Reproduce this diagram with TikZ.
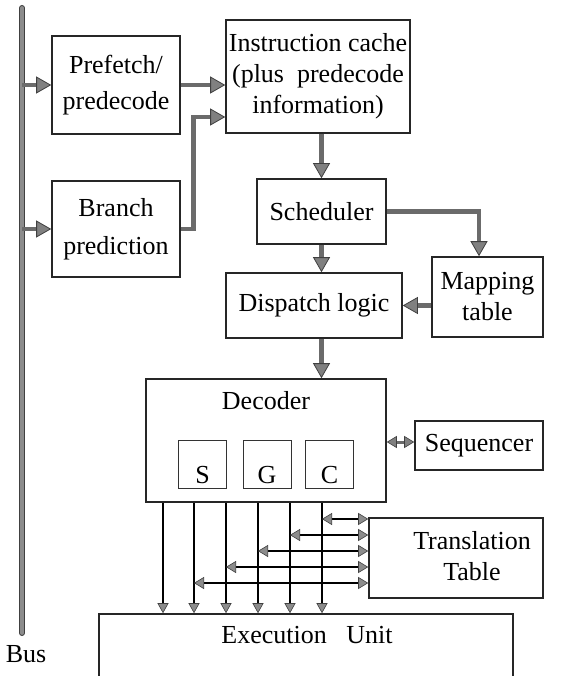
\documentclass[tikz,border=0pt]{standalone}
\usepackage{fontspec}
\setmainfont{Liberation Serif}
\usetikzlibrary{arrows.meta,calc}
\tikzset{
  box/.style={draw=black!85, line width=1.6pt, inner sep=0pt, align=center,
    font=\fontsize{26}{31}\selectfont},
  subbox/.style={draw=black!80, line width=0.8pt, inner sep=0pt,
    minimum width=48, minimum height=48},
  txt/.style={inner sep=0pt, align=center, font=\fontsize{26}{31}\selectfont},
  fat/.style={line width=4.8pt, draw=black!58,
    -{Triangle[length=15pt,width=17pt,fill=black!50,color=black!75,line width=0.8pt]}},
  fatdbl/.style={line width=3pt, draw=black!58,
    {Triangle[length=10pt,width=12pt,fill=black!50,color=black!75,line width=0.6pt]}-{Triangle[length=10pt,width=12pt,fill=black!50,color=black!75,line width=0.6pt]}},
  thinarr/.style={line width=2pt, draw=black,
    -{Triangle[length=10pt,width=11pt,fill=black!45,color=black!75,line width=0.6pt]}},
  thindbl/.style={line width=2pt, draw=black,
    {Triangle[length=10pt,width=12pt,fill=black!45,color=black!75,line width=0.6pt]}-{Triangle[length=10pt,width=12pt,fill=black!45,color=black!75,line width=0.6pt]}},
}
\begin{document}
\begin{tikzpicture}[x=1pt,y=-1pt]
\useasboundingbox (0,0) rectangle (587,676);
\clip (0,0) rectangle (587,676);

% bus
\coordinate (busTop) at (22,8);
\coordinate (busBot) at (22,633);
\draw[line width=6pt, draw=black!75, line cap=round] (busTop) -- (busBot);
\draw[line width=3.8pt, draw=black!45, line cap=round] (busTop) -- (busBot);
\node[txt] (bus) at (26,654) {Bus};

% boxes
\node[box, minimum width=128, minimum height=98] (pf) at (116,85) {Prefetch/\\[5pt]predecode};
\node[box, minimum width=128, minimum height=96] (bp) at (116,229) {Branch\\[7pt]prediction};
\node[box, minimum width=184, minimum height=113] (ic) at (318,76.5) {Instruction cache\\(plus\ \ predecode\\information)};
\node[box, minimum width=129, minimum height=65] (sch) at (321.5,211.5) {Scheduler};
\node[box, minimum width=176, minimum height=65] (dl) at (314,305.5) {Dispatch logic};
\node[box, minimum width=111, minimum height=80] (mt) at (487.5,297) {Mapping\\table};
\node[box, minimum width=240, minimum height=123] (dec) at (266,440.5) {};
\node[txt] (dect) at (266,401) {Decoder};
\node[subbox] (sS) at (202.5,464) {};
\node[subbox] (sG) at (267,464) {};
\node[subbox] (sC) at (329.5,464) {};
\node[txt] at (202.5,475) {S};
\node[txt] at (267,475) {G};
\node[txt] at (329.5,475) {C};
\node[box, minimum width=128, minimum height=49] (seq) at (479,445.5) {Sequencer};
\node[box, minimum width=174, minimum height=80] (tt) at (456,558) {};
\node[txt] (ttt) at (472,556) {Translation\\Table};
\node[box, minimum width=414, minimum height=80] (eu) at (306,654) {};
\node[txt] (eut) at (307,635) {Execution\ \ \ Unit};

% thick connectors
\draw[fat] (busTop |- pf.west) -- (pf.west);
\draw[fat] (busTop |- bp.west) -- (bp.west);
\draw[fat] (pf.east) -- (pf.east -| ic.west);
\draw[fat] (bp.east) -- ++(13,0) |- ([yshift=-40.5pt]ic.west);
\draw[fat] (ic.south -| sch.north) -- (sch.north);
\draw[fat] (sch.south) -- (sch.south |- dl.north);
\draw[fat] (sch.east) -| ([xshift=-8.5pt]mt.north);
\draw[fat] (mt.west |- dl.east) -- (dl.east);
\draw[fat] (sch.south |- dl.south) -- (sch.south |- dec.north);
\coordinate (sq) at ([yshift=3.5pt]seq.west);
\draw[fatdbl] (sq -| dec.east) -- (sq);

% thin connectors
\foreach \i/\x in {1/163,2/194,3/226,4/258,5/290,6/322}{
  \coordinate (v\i) at (\x,0);
  \draw[thinarr] (dec.south -| v\i) -- (eu.north -| v\i);
}
\foreach \i/\y in {6/519,5/535,4/551,3/567,2/583}{
  \coordinate (h\i) at (0,\y);
  \draw[thindbl] (v\i |- h\i) -- (tt.west |- h\i);
}
\end{tikzpicture}
\end{document}
